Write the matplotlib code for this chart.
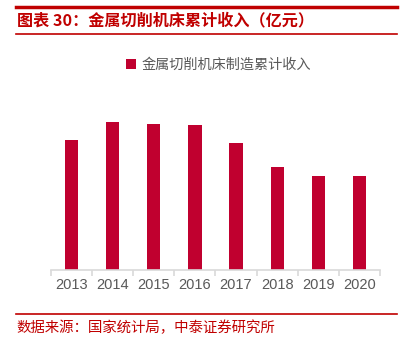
import matplotlib
matplotlib.use("Agg")
import matplotlib.pyplot as plt
from matplotlib.lines import Line2D
import numpy as np

plt.rcParams['font.family'] = ['Noto Sans CJK SC', 'DejaVu Sans']

years = ["2013", "2014", "2015", "2016", "2017", "2018", "2019", "2020"]
revenue = [130, 148, 146, 145, 127, 103, 94, 94]
series_name = "金属切削机床制造累计收入"
title = "图表 30：金属切削机床累计收入（亿元）"
source = "数据来源：国家统计局，中泰证券研究所"

W, H = 410, 345
fig = plt.figure(figsize=(W / 100, H / 100), dpi=100)

red = "#C00000"
bar_color = "#C0002F"

ax = fig.add_axes([51 / W, (H - 270) / H, (380 - 51) / W, 180 / H])
x = np.arange(len(years))
ax.bar(x, revenue, width=0.32, color=bar_color, label=series_name)
ax.set_xlim(-0.5, len(years) - 0.5)
ax.set_ylim(0, 180)
ax.set_yticks([])
for s in ["top", "right", "left"]:
    ax.spines[s].set_visible(False)
ax.spines["bottom"].set_color("#D9D9D9")
ax.spines["bottom"].set_linewidth(1.2)
ax.set_xticks(x)
ax.set_xticklabels(years, fontfamily="Liberation Sans", fontsize=10.5, color="#595959")
ax.tick_params(axis="x", length=0, pad=6)
ax.set_xticks(np.arange(-0.5, len(years), 1.0), minor=True)
ax.tick_params(axis="x", which="minor", length=4, color="#D9D9D9", width=1.2)

leg = ax.legend(loc="lower center", bbox_to_anchor=(0.51, 1.03), frameon=False,
                handlelength=0.7, handleheight=0.7, handletextpad=0.4,
                prop={"family": "Noto Sans CJK SC", "size": 10.2})
for t in leg.get_texts():
    t.set_color("#595959")

fig.add_artist(Line2D([16 / W, 397 / W], [1 - 6.5 / H, 1 - 6.5 / H], color=red, lw=2.5))
fig.add_artist(Line2D([16 / W, 397 / W], [1 - 34 / H, 1 - 34 / H], color=red, lw=1.2))
fig.text(17 / W, 1 - 20 / H, title, color=red, fontsize=11.6, fontweight="bold",
         va="center", ha="left")
fig.add_artist(Line2D([16 / W, 397 / W], [1 - 314 / H, 1 - 314 / H], color=red, lw=1.2))
fig.text(16 / W, 1 - 328 / H, source, color=red, fontsize=10.4, va="center", ha="left")

fig.savefig("out.png", dpi=100)
